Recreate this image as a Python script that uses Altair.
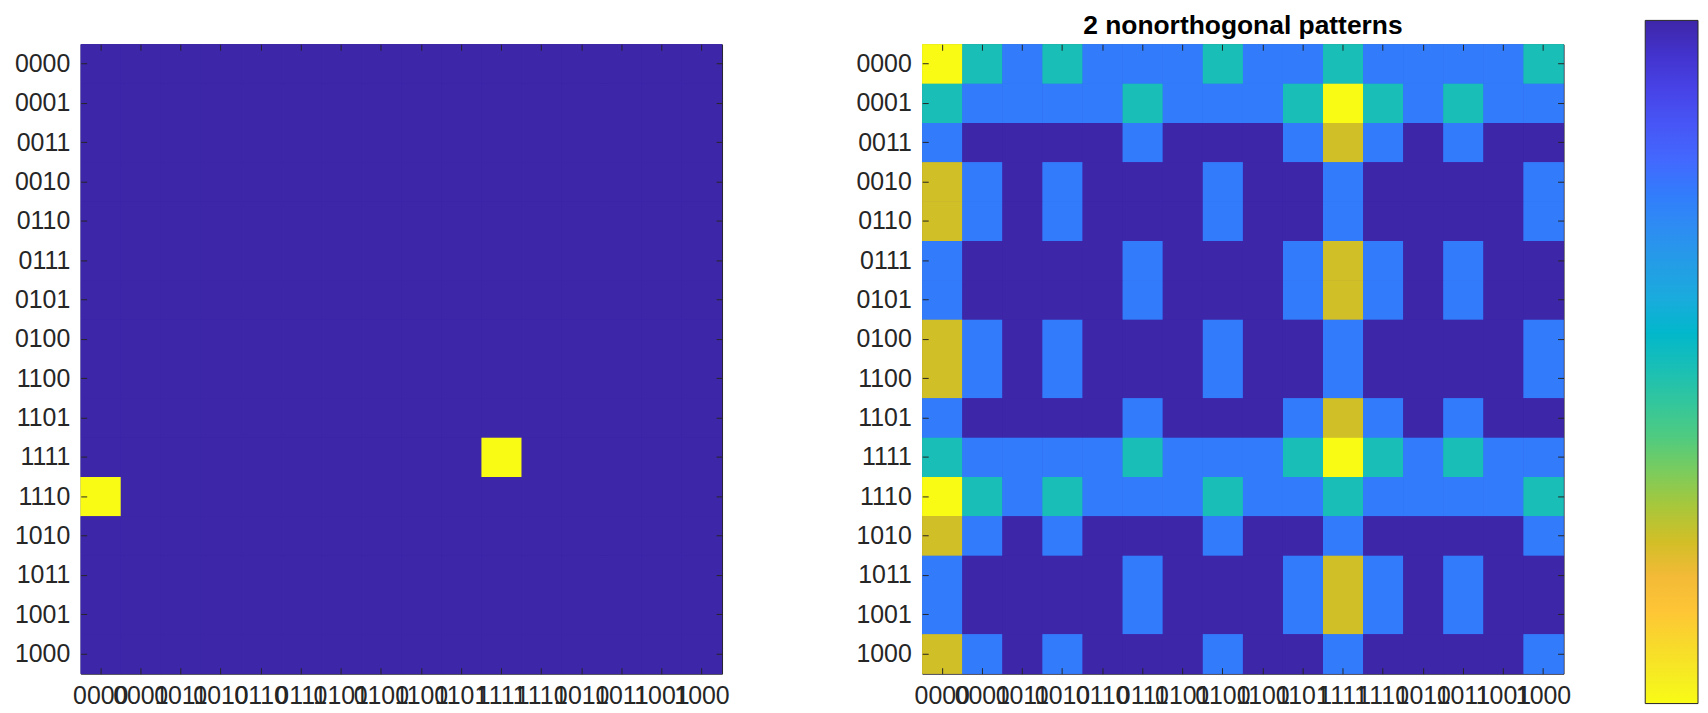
import altair as alt
import pandas as pd

codes = ["0000", "0001", "0011", "0010", "0110", "0111", "0101", "0100",
         "1100", "1101", "1111", "1110", "1010", "1011", "1001", "1000"]

# left panel: one-hot cells (row order = codes, column order = codes)
left_matrix = [
    [0, 0, 0, 0, 0, 0, 0, 0, 0, 0, 0, 0, 0, 0, 0, 0],
    [0, 0, 0, 0, 0, 0, 0, 0, 0, 0, 0, 0, 0, 0, 0, 0],
    [0, 0, 0, 0, 0, 0, 0, 0, 0, 0, 0, 0, 0, 0, 0, 0],
    [0, 0, 0, 0, 0, 0, 0, 0, 0, 0, 0, 0, 0, 0, 0, 0],
    [0, 0, 0, 0, 0, 0, 0, 0, 0, 0, 0, 0, 0, 0, 0, 0],
    [0, 0, 0, 0, 0, 0, 0, 0, 0, 0, 0, 0, 0, 0, 0, 0],
    [0, 0, 0, 0, 0, 0, 0, 0, 0, 0, 0, 0, 0, 0, 0, 0],
    [0, 0, 0, 0, 0, 0, 0, 0, 0, 0, 0, 0, 0, 0, 0, 0],
    [0, 0, 0, 0, 0, 0, 0, 0, 0, 0, 0, 0, 0, 0, 0, 0],
    [0, 0, 0, 0, 0, 0, 0, 0, 0, 0, 0, 0, 0, 0, 0, 0],
    [0, 0, 0, 0, 0, 0, 0, 0, 0, 0, 1, 0, 0, 0, 0, 0],
    [1, 0, 0, 0, 0, 0, 0, 0, 0, 0, 0, 0, 0, 0, 0, 0],
    [0, 0, 0, 0, 0, 0, 0, 0, 0, 0, 0, 0, 0, 0, 0, 0],
    [0, 0, 0, 0, 0, 0, 0, 0, 0, 0, 0, 0, 0, 0, 0, 0],
    [0, 0, 0, 0, 0, 0, 0, 0, 0, 0, 0, 0, 0, 0, 0, 0],
    [0, 0, 0, 0, 0, 0, 0, 0, 0, 0, 0, 0, 0, 0, 0, 0],
]

# right panel: "2 nonorthogonal patterns"
right_matrix = [
    [1.00, 0.50, 0.25, 0.50, 0.25, 0.25, 0.25, 0.50, 0.25, 0.25, 0.50, 0.25, 0.25, 0.25, 0.25, 0.50],
    [0.50, 0.25, 0.25, 0.25, 0.25, 0.50, 0.25, 0.25, 0.25, 0.50, 1.00, 0.50, 0.25, 0.50, 0.25, 0.25],
    [0.25, 0.00, 0.00, 0.00, 0.00, 0.25, 0.00, 0.00, 0.00, 0.25, 0.75, 0.25, 0.00, 0.25, 0.00, 0.00],
    [0.75, 0.25, 0.00, 0.25, 0.00, 0.00, 0.00, 0.25, 0.00, 0.00, 0.25, 0.00, 0.00, 0.00, 0.00, 0.25],
    [0.75, 0.25, 0.00, 0.25, 0.00, 0.00, 0.00, 0.25, 0.00, 0.00, 0.25, 0.00, 0.00, 0.00, 0.00, 0.25],
    [0.25, 0.00, 0.00, 0.00, 0.00, 0.25, 0.00, 0.00, 0.00, 0.25, 0.75, 0.25, 0.00, 0.25, 0.00, 0.00],
    [0.25, 0.00, 0.00, 0.00, 0.00, 0.25, 0.00, 0.00, 0.00, 0.25, 0.75, 0.25, 0.00, 0.25, 0.00, 0.00],
    [0.75, 0.25, 0.00, 0.25, 0.00, 0.00, 0.00, 0.25, 0.00, 0.00, 0.25, 0.00, 0.00, 0.00, 0.00, 0.25],
    [0.75, 0.25, 0.00, 0.25, 0.00, 0.00, 0.00, 0.25, 0.00, 0.00, 0.25, 0.00, 0.00, 0.00, 0.00, 0.25],
    [0.25, 0.00, 0.00, 0.00, 0.00, 0.25, 0.00, 0.00, 0.00, 0.25, 0.75, 0.25, 0.00, 0.25, 0.00, 0.00],
    [0.50, 0.25, 0.25, 0.25, 0.25, 0.50, 0.25, 0.25, 0.25, 0.50, 1.00, 0.50, 0.25, 0.50, 0.25, 0.25],
    [1.00, 0.50, 0.25, 0.50, 0.25, 0.25, 0.25, 0.50, 0.25, 0.25, 0.50, 0.25, 0.25, 0.25, 0.25, 0.50],
    [0.75, 0.25, 0.00, 0.25, 0.00, 0.00, 0.00, 0.25, 0.00, 0.00, 0.25, 0.00, 0.00, 0.00, 0.00, 0.25],
    [0.25, 0.00, 0.00, 0.00, 0.00, 0.25, 0.00, 0.00, 0.00, 0.25, 0.75, 0.25, 0.00, 0.25, 0.00, 0.00],
    [0.25, 0.00, 0.00, 0.00, 0.00, 0.25, 0.00, 0.00, 0.00, 0.25, 0.75, 0.25, 0.00, 0.25, 0.00, 0.00],
    [0.75, 0.25, 0.00, 0.25, 0.00, 0.00, 0.00, 0.25, 0.00, 0.00, 0.25, 0.00, 0.00, 0.00, 0.00, 0.25],
]

right_title = "2 nonorthogonal patterns"

# MATLAB (R2014) parula colormap, 64 entries
parula = [
    "#3E26A8", "#402AB4", "#422EBF", "#4332CB", "#4537D5", "#463CDE", "#4741E5", "#4847EB",
    "#484DF0", "#4852F4", "#4758F8", "#465EFB", "#4563FD", "#4269FE", "#3E6FFF", "#3875FE",
    "#327CFC", "#2F81FA", "#2E87F7", "#2D8CF3", "#2B91EF", "#2796EB", "#259BE7", "#23A0E5",
    "#20A5E3", "#1CA9DF", "#18ADDB", "#12B1D6", "#08B5D0", "#01B8CA", "#02BAC3", "#0BBDBC",
    "#19BFB6", "#24C1AF", "#2CC4A7", "#31C69F", "#37C897", "#3FCA8E", "#4ACB84", "#57CC7A",
    "#64CD6F", "#72CD64", "#81CC59", "#8FCB4E", "#9DC943", "#ABC739", "#B9C431", "#C5C22A",
    "#D1BF27", "#DCBD29", "#E6BB2D", "#F0BA36", "#F8BA3D", "#FEBE3C", "#FEC338", "#FEC934",
    "#FCCF30", "#FAD62D", "#F7DC2A", "#F5E327", "#F5E924", "#F6EF20", "#F7F51B", "#F9FB15",
]
# descending stops so the vertical colorbar shows the low end at the top
stops_desc = [k / 64 for k in range(63, -1, -1)]
parula_desc = parula[::-1]

FONT = "Liberation Sans"
AX = "#262626"
W, H = 644, 632
TICK = 6


def to_long(matrix):
    rows = []
    for i, r in enumerate(codes):
        for j, c in enumerate(codes):
            rows.append({"row": r, "col": c, "value": matrix[i][j]})
    return pd.DataFrame(rows)


def band():
    return alt.Scale(domain=codes, paddingInner=0, paddingOuter=0)


cscale = alt.Scale(type="linear", domain=stops_desc, range=parula_desc, clamp=True,
                   interpolate="rgb")

color = alt.Color(
    "value:Q",
    scale=cscale,
    legend=alt.Legend(
        type="gradient",
        title=None,
        orient="none",
        direction="vertical",
        gradientLength=686,
        gradientThickness=53,
        gradientStrokeColor=AX,
        gradientStrokeWidth=1,
        labelOpacity=0,
        labelFontSize=1,
        labelOffset=0,
        labelPadding=0,
        legendX=1571,
        legendY=-24,
    ),
)


def panel(matrix, title=None):
    df = to_long(matrix)
    base = alt.Chart(df)
    heat = base.mark_rect().encode(
        x=alt.X("col:N", scale=band(), axis=alt.Axis(
            orient="bottom", offset=-TICK, tickSize=TICK, domain=False, grid=False,
            labelAngle=0, labelFont=FONT, labelFontSize=25, labelColor=AX,
            tickColor=AX, labelPadding=10, labelOverlap=False, labelBound=False,
            title=None, zindex=1)),
        y=alt.Y("row:N", scale=band(), axis=alt.Axis(
            orient="left", offset=-TICK, tickSize=TICK, domain=False, grid=False,
            labelFont=FONT, labelFontSize=25, labelColor=AX, tickColor=AX,
            labelPadding=11, labelOverlap=False, title=None, zindex=1)),
        color=color,
    )
    # second copy of the cells closes anti-aliasing seams between neighbouring cells
    heat2 = base.mark_rect().encode(
        x=alt.X("col:N", scale=band(), axis=alt.Axis(
            orient="top", offset=-TICK, tickSize=TICK, domain=False, grid=False,
            labels=False, tickColor=AX, title=None, zindex=1)),
        y=alt.Y("row:N", scale=band(), axis=alt.Axis(
            orient="right", offset=-TICK, tickSize=TICK, domain=False, grid=False,
            labels=False, tickColor=AX, title=None, zindex=1)),
        color=color,
    )
    ch = alt.layer(heat, heat2).resolve_axis(x="independent", y="independent")
    props = dict(width=W, height=H)
    if title:
        props["title"] = alt.Title(title, fontSize=26.5, font=FONT, fontWeight="bold",
                                   color="#000000", offset=4, anchor="middle")
    return ch.properties(**props)


chart = alt.hconcat(
    panel(left_matrix),
    panel(right_matrix, right_title),
    spacing=201,
    bounds="flush",
).configure_view(stroke=AX, strokeWidth=1, fill="#3E26A8").properties(
    padding={"left": 5, "top": 3, "right": 0, "bottom": 0}
)

chart.save("out.html", embed_options={"renderer": "svg", "actions": False})
